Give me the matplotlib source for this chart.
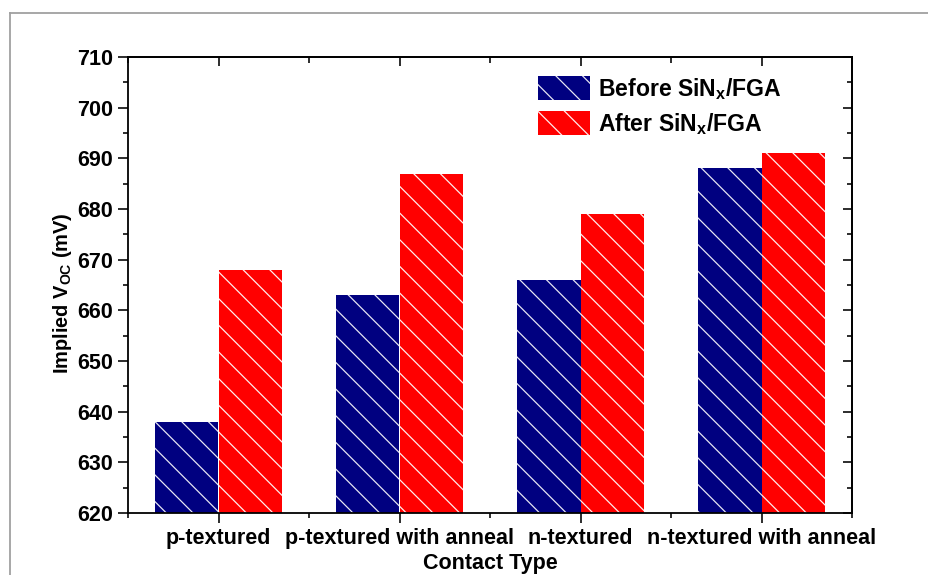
import numpy as np
import matplotlib
matplotlib.use("Agg")
import matplotlib.pyplot as plt
from matplotlib.ticker import MultipleLocator
from matplotlib.lines import Line2D

categories = ["p-textured", "p-textured with anneal", "n-textured", "n-textured with anneal"]
before_vals = [638, 663, 666, 688]
after_vals = [668, 687, 679, 691]
series_labels = [r"Before SiN$_\mathregular{x}$/FGA", r"After SiN$_\mathregular{x}$/FGA"]

DPI = 80
plt.rcParams['font.family'] = ['Liberation Sans', 'DejaVu Sans']
plt.rcParams['font.weight'] = 'bold'
plt.rcParams['mathtext.fontset'] = 'custom'
plt.rcParams['mathtext.rm'] = 'Liberation Sans:bold'
plt.rcParams['mathtext.it'] = 'Liberation Sans:bold'
plt.rcParams['mathtext.bf'] = 'Liberation Sans:bold'
plt.rcParams['hatch.linewidth'] = 1.1

def px(p):
    return p * 72.0 / DPI

fig = plt.figure(figsize=(928 / DPI, 575 / DPI), dpi=DPI)
ax = fig.add_axes([128 / 928, 1 - 513 / 575, (852 - 128) / 928, (513 - 57) / 575])

x = np.arange(1, len(categories) + 1)
w = 0.35
ax.bar(x - w / 2, before_vals, width=w, color='#000080', edgecolor='#e8e8f4', linewidth=0,
       hatch='\\', label=series_labels[0])
ax.bar(x + w / 2, after_vals, width=w, color='#ff0000', edgecolor='#fff0f0', linewidth=0,
       hatch='\\', label=series_labels[1])

ax.set_xlim(0.5, 4.5)
ax.set_ylim(620, 710)
ax.set_xticks(x)
ax.set_xticklabels(categories)
ax.xaxis.set_minor_locator(MultipleLocator(0.5))
ax.yaxis.set_major_locator(MultipleLocator(10))
ax.yaxis.set_minor_locator(MultipleLocator(5))

for s in ax.spines.values():
    s.set_linewidth(px(1.8))

ax.tick_params(which='major', direction='out', length=px(10), width=px(1.6),
               labelsize=px(21.5), pad=px(5), top=False, right=False)
ax.tick_params(which='minor', direction='out', length=px(5), width=px(1.6),
               top=False, right=False)

axt = ax.secondary_xaxis('top')
axt.set_xticks(x)
axt.xaxis.set_minor_locator(MultipleLocator(0.5))
axt.tick_params(which='major', direction='in', length=px(9), width=px(1.6), labeltop=False)
axt.tick_params(which='minor', direction='in', length=px(6), width=px(1.6))
axt.set_xticklabels([])
axt.spines['top'].set_linewidth(px(1.8))
axr = ax.secondary_yaxis('right')
axr.yaxis.set_major_locator(MultipleLocator(10))
axr.yaxis.set_minor_locator(MultipleLocator(5))
axr.tick_params(which='major', direction='in', length=px(9), width=px(1.6), labelright=False)
axr.tick_params(which='minor', direction='in', length=px(5), width=px(1.6))
axr.set_yticklabels([])
axr.spines['right'].set_linewidth(px(1.8))

ax.set_xlabel("Contact Type", fontsize=px(21.5), fontweight='bold')
ax.xaxis.set_label_coords(0.5, -(563 - 513) / 456, transform=ax.transAxes)
ax.xaxis.label.set_va('center')
ax.set_ylabel(r"Implied V$_\mathregular{OC}$ (mV)", fontsize=px(20), fontweight='bold')
ax.yaxis.set_label_coords(-(128 - 63) / 724, (513 - 293) / 456, transform=ax.transAxes)
ax.yaxis.label.set_va('center')

ax.legend(loc='upper left', bbox_to_anchor=((538 - 128) / 724, (513 - 76) / 456),
          frameon=False, fontsize=px(23), handlelength=2.26, handleheight=1.22,
          handletextpad=0.35, labelspacing=0.4, borderpad=0, borderaxespad=0)

fig.add_artist(Line2D([10 / 928, 1.0], [1 - 13 / 575, 1 - 13 / 575],
                      transform=fig.transFigure, color='#a0a0a0', linewidth=px(1.8)))
fig.add_artist(Line2D([10 / 928, 10 / 928], [0.0, 1 - 13 / 575],
                      transform=fig.transFigure, color='#a0a0a0', linewidth=px(1.8)))

fig.savefig("out.png", dpi=DPI)
